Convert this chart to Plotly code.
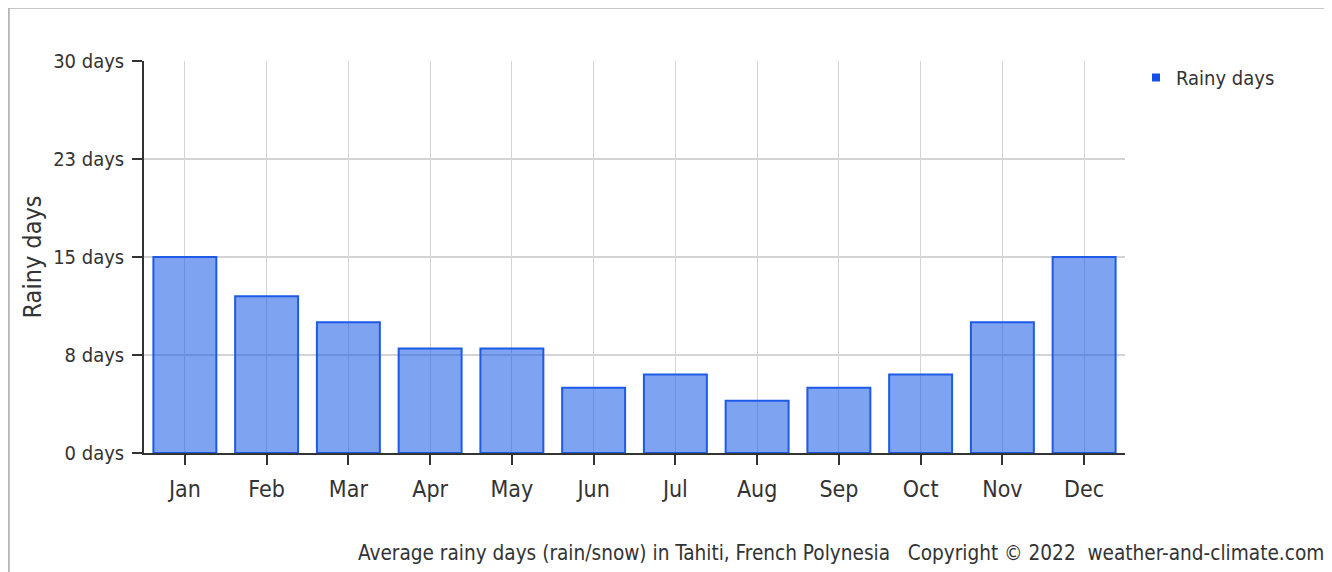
import plotly.graph_objects as go

months = ["Jan", "Feb", "Mar", "Apr", "May", "Jun", "Jul", "Aug", "Sep", "Oct", "Nov", "Dec"]
rainy_days = [15, 12, 10, 8, 8, 5, 6, 4, 5, 6, 10, 15]
y_tickvals = [0, 7.5, 15, 22.5, 30]
y_ticktext = ["0 days", "8 days", "15 days", "23 days", "30 days"]

FONT = "DejaVu Sans Condensed, Liberation Sans Narrow, Roboto Condensed, Liberation Sans, sans-serif"

fig = go.Figure()
fig.add_trace(go.Bar(
    x=months, y=rainy_days, name="Rainy days",
    marker=dict(color="rgba(20,90,230,0.55)", line=dict(color="rgb(30,90,230)", width=2)),
    showlegend=False, hoverinfo="x+y",
))
fig.add_trace(go.Scatter(
    x=[None], y=[None], mode="markers", name="Rainy days",
    marker=dict(symbol="square", size=8, color="rgb(20,80,230)"),
))

OFF = 8  # page body margin
PAGE_W, PAGE_H = 1332, 572
W, H = PAGE_W - OFF, PAGE_H - OFF
L = 144 - OFF
T = 61 - OFF
R = PAGE_W - 1125
B = PAGE_H - 453
pw, ph = W - L - R, H - T - B

def px_x(p):
    return (p - OFF - L) / pw

def px_y(p):
    return (H - B - (p - OFF)) / ph

fig.update_layout(
    width=W, height=H,
    margin=dict(l=L, r=R, t=T, b=B),
    paper_bgcolor="white", plot_bgcolor="white",
    font=dict(family=FONT, size=15, color="#333"),
    bargap=0.23,
    showlegend=True,
    legend=dict(x=px_x(1136), y=px_y(58), xanchor="left", yanchor="top",
                font=dict(family=FONT, size=20, color="#333"),
                itemwidth=30, bgcolor="rgba(0,0,0,0)"),
    xaxis=dict(
        showgrid=True, gridcolor="#d4d4d4", gridwidth=1,
        showline=True, linecolor="#333", linewidth=1.5,
        ticks="outside", ticklen=10, tickcolor="#333", tickwidth=1.5,
        tickfont=dict(family=FONT, size=23, color="#333"),
        ticklabelstandoff=5,
        fixedrange=True,
    ),
    yaxis=dict(
        range=[0, 30], tickvals=y_tickvals, ticktext=y_ticktext,
        showgrid=True, gridcolor="#d4d4d4", gridwidth=1.5,
        showline=True, linecolor="#333", linewidth=1.5,
        ticks="outside", ticklen=10, tickcolor="#333", tickwidth=1.5,
        tickfont=dict(family=FONT, size=20, color="#333"),
        ticklabelstandoff=4,
        title=dict(text="Rainy days", font=dict(family=FONT, size=25, color="#333"), standoff=4),
        zeroline=False, fixedrange=True,
    ),
    shapes=[
        dict(type="line", xref="paper", yref="paper", x0=px_x(8.5), x1=px_x(1400),
             y0=px_y(7.5), y1=px_y(7.5), line=dict(color="#b5b5b5", width=2.5)),
        dict(type="line", xref="paper", yref="paper", x0=px_x(8.5), x1=px_x(8.5),
             y0=px_y(7.5), y1=px_y(600), line=dict(color="#b5b5b5", width=2.5)),
    ],
    annotations=[
        dict(text="Average rainy days (rain/snow) in Tahiti, French Polynesia   Copyright © 2022  weather-and-climate.com",
             xref="paper", yref="paper", x=px_x(1326), y=px_y(553), xanchor="right", yanchor="middle",
             showarrow=False, font=dict(family=FONT, size=20.6, color="#333")),
    ],
)

fig.write_html("out.html")
